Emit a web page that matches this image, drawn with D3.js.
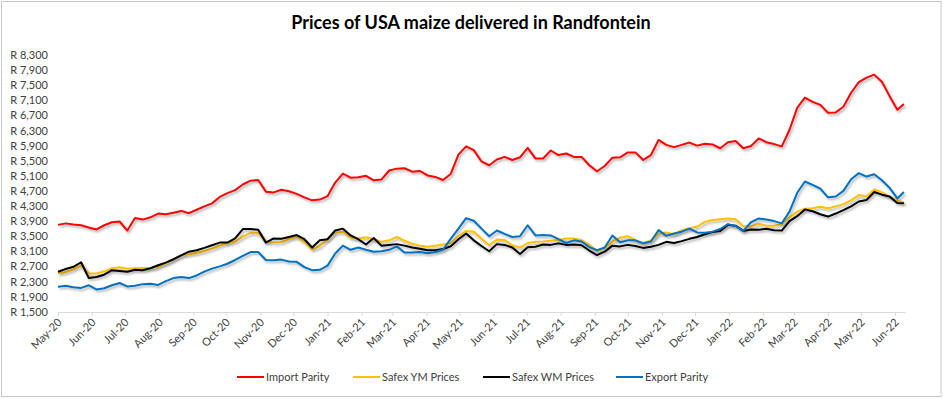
<!DOCTYPE html>
<html>
<head>
<meta charset="utf-8">
<script src="https://cdn.jsdelivr.net/npm/d3@7/dist/d3.min.js"></script>
<style>
  body { margin: 0; background: #ffffff; }
  svg { font-family: Lato, "Open Sans", sans-serif; }
</style>
</head>
<body>
<svg id="vis" width="943" height="399"></svg>
<script>
// weekly readings taken off the chart (R per ton)
var dates = [
  "2020-05-01","2020-05-08","2020-05-15","2020-05-22","2020-05-29",
  "2020-06-05","2020-06-12","2020-06-19","2020-06-26",
  "2020-07-03","2020-07-10","2020-07-17","2020-07-24","2020-07-31",
  "2020-08-07","2020-08-14","2020-08-21","2020-08-28",
  "2020-09-04","2020-09-11","2020-09-18","2020-09-25",
  "2020-10-02","2020-10-09","2020-10-16","2020-10-23","2020-10-30",
  "2020-11-06","2020-11-13","2020-11-20","2020-11-27",
  "2020-12-04","2020-12-11","2020-12-18","2020-12-25",
  "2021-01-01","2021-01-08","2021-01-15","2021-01-22","2021-01-29",
  "2021-02-05","2021-02-12","2021-02-19","2021-02-26",
  "2021-03-05","2021-03-12","2021-03-19","2021-03-26",
  "2021-04-02","2021-04-09","2021-04-16","2021-04-23","2021-04-30",
  "2021-05-07","2021-05-14","2021-05-21","2021-05-28",
  "2021-06-04","2021-06-11","2021-06-18","2021-06-25",
  "2021-07-02","2021-07-09","2021-07-16","2021-07-23","2021-07-30",
  "2021-08-06","2021-08-13","2021-08-20","2021-08-27",
  "2021-09-03","2021-09-10","2021-09-17","2021-09-24",
  "2021-10-01","2021-10-08","2021-10-15","2021-10-22","2021-10-29",
  "2021-11-05","2021-11-12","2021-11-19","2021-11-26",
  "2021-12-03","2021-12-10","2021-12-17","2021-12-24","2021-12-31",
  "2022-01-07","2022-01-14","2022-01-21","2022-01-28",
  "2022-02-04","2022-02-11","2022-02-18","2022-02-25",
  "2022-03-04","2022-03-11","2022-03-18","2022-03-25",
  "2022-04-01","2022-04-08","2022-04-15","2022-04-22","2022-04-29",
  "2022-05-06","2022-05-13","2022-05-20","2022-05-27",
  "2022-06-03","2022-06-09"
];

var importParity = [
  3800,3840,3810,3790,3730,3680,3790,3870,3890,3650,
  3980,3940,4000,4100,4080,4120,4170,4110,4200,4290,
  4370,4540,4640,4720,4870,4970,4990,4680,4660,4730,
  4690,4620,4530,4450,4470,4560,4920,5160,5050,5060,
  5100,4980,5000,5240,5290,5300,5210,5230,5110,5070,
  4990,5150,5660,5880,5780,5480,5380,5530,5600,5520,
  5590,5840,5560,5560,5770,5650,5690,5600,5600,5380,
  5220,5360,5580,5590,5720,5720,5520,5650,6050,5920,
  5860,5920,5980,5900,5950,5930,5830,5990,6020,5830,
  5890,6090,5990,5940,5880,6320,6900,7170,7060,6980,
  6770,6780,6930,7300,7580,7700,7780,7590,7210,6850,
  7000
];

var safexYM = [
  2520,2550,2620,2730,2520,2510,2570,2650,2680,2640,
  2650,2660,2650,2690,2790,2890,3000,3020,3060,3110,
  3170,3250,3320,3360,3490,3590,3580,3370,3330,3340,
  3430,3490,3350,3150,3240,3420,3600,3620,3460,3440,
  3470,3420,3350,3390,3480,3380,3300,3250,3220,3250,
  3280,3320,3500,3640,3620,3430,3260,3410,3400,3260,
  3200,3320,3350,3360,3380,3400,3440,3440,3400,3270,
  3110,3180,3360,3460,3500,3390,3320,3390,3570,3600,
  3550,3660,3710,3750,3880,3930,3950,3970,3950,3760,
  3760,3830,3780,3780,3820,4000,4150,4230,4240,4280,
  4240,4290,4350,4450,4590,4560,4740,4660,4550,4450,
  4390
];

var safexWM = [
  2560,2630,2690,2810,2390,2420,2480,2600,2580,2560,
  2610,2600,2650,2730,2800,2890,2990,3090,3130,3190,
  3260,3330,3330,3440,3690,3690,3670,3330,3440,3430,
  3480,3530,3420,3200,3390,3420,3650,3700,3520,3420,
  3280,3450,3250,3270,3290,3250,3200,3170,3130,3130,
  3160,3230,3420,3570,3390,3240,3100,3290,3270,3200,
  3030,3210,3220,3280,3270,3310,3270,3280,3260,3120,
  3000,3090,3250,3230,3270,3240,3190,3220,3270,3350,
  3320,3370,3430,3480,3550,3610,3640,3800,3780,3640,
  3680,3670,3700,3660,3650,3900,4030,4210,4160,4080,
  4020,4100,4190,4290,4420,4460,4670,4600,4550,4380,
  4370
];

var exportParity = [
  2160,2190,2150,2130,2200,2090,2120,2200,2260,2170,
  2190,2230,2240,2210,2310,2390,2420,2390,2460,2560,
  2640,2700,2770,2870,2980,3080,3080,2870,2860,2880,
  2830,2820,2680,2600,2610,2720,3040,3250,3140,3200,
  3140,3090,3100,3140,3230,3070,3070,3080,3050,3080,
  3140,3430,3700,3980,3910,3700,3500,3650,3560,3480,
  3500,3790,3520,3530,3520,3420,3320,3390,3360,3210,
  3130,3200,3520,3340,3390,3390,3310,3360,3660,3510,
  3570,3620,3700,3600,3590,3620,3690,3820,3770,3640,
  3870,3970,3940,3900,3840,4150,4650,4950,4860,4760,
  4530,4550,4700,5010,5170,5080,5140,4980,4780,4500,
  4670
];

var seriesNames = ["Import Parity", "Safex YM Prices", "Safex WM Prices", "Export Parity"];
var seriesColors = ["#ff0000", "#ffc000", "#000000", "#0070c0"];
var yTicks = [1500,1900,2300,2700,3100,3500,3900,4300,4700,5100,5500,5900,6300,6700,7100,7500,7900,8300];

var svg = d3.select("#vis");
var parseDate = d3.timeParse("%Y-%m-%d");
var allSeries = [importParity, safexYM, safexWM, exportParity];

// outer frame
svg.append("rect")
  .attr("x", 1.5).attr("y", 1.5)
  .attr("width", 939.5).attr("height", 395)
  .attr("fill", "#ffffff")
  .attr("stroke", "#c8c8c8")
  .attr("stroke-width", 1);

// soft shadow under the lines, like the excel effect
var defs = svg.append("defs");
var filter = defs.append("filter").attr("id", "shadow")
  .attr("x", "-5%").attr("y", "-10%").attr("width", "110%").attr("height", "130%");
filter.append("feDropShadow")
  .attr("dx", 1.5).attr("dy", 2)
  .attr("stdDeviation", 1.3)
  .attr("flood-color", "#000")
  .attr("flood-opacity", 0.3);

var xScale = d3.scaleTime()
  .domain([parseDate("2020-05-01"), parseDate("2022-06-10")])
  .range([58, 905]);

var yScale = d3.scaleLinear()
  .domain([1500, 8300])
  .range([311.7, 55]);

// title
svg.append("text")
  .attr("x", 471)
  .attr("y", 29)
  .style("text-anchor", "middle")
  .style("font-size", "18px")
  .style("font-weight", "bold")
  .style("fill", "#000")
  .text("Prices of USA maize delivered in Randfontein");

// y axis (labels only)
var yAxis = d3.axisLeft(yScale)
  .tickValues(yTicks)
  .tickSize(0)
  .tickFormat(function(d){ return "R " + d3.format(",")(d); });
var yGroup = svg.append("g").attr("transform", "translate(48,0)").call(yAxis);
yGroup.select(".domain").remove();
yGroup.selectAll("text")
  .attr("x", 0)
  .style("font-size", "11px")
  .style("font-family", "Lato, 'Open Sans', sans-serif")
  .style("fill", "#404040");

// x axis with month ticks
var months = d3.timeMonth.range(parseDate("2020-05-01"), parseDate("2022-06-02"));
var xAxis = d3.axisBottom(xScale)
  .tickValues(months)
  .tickSize(4)
  .tickSizeOuter(0)
  .tickFormat(d3.timeFormat("%b-%y"));
var xGroup = svg.append("g").attr("transform", "translate(0,312)").call(xAxis);
xGroup.select(".domain").attr("stroke", "#d9d9d9");
xGroup.selectAll(".tick line").attr("stroke", "#d9d9d9");
xGroup.selectAll("text")
  .attr("y", 0)
  .attr("dy", 0)
  .attr("transform", "translate(4,11) rotate(-45)")
  .style("text-anchor", "end")
  .style("font-size", "11px")
  .style("font-family", "Lato, 'Open Sans', sans-serif")
  .style("fill", "#404040");

// lines
var line = d3.line()
  .x(function(d){ return xScale(d.date); })
  .y(function(d){ return yScale(d.value); });

for (var s = 0; s < allSeries.length; s++) {
  var points = [];
  for (var i = 0; i < dates.length; i++) {
    points.push({date: parseDate(dates[i]), value: allSeries[s][i]});
  }
  svg.append("path")
    .attr("d", line(points))
    .attr("fill", "none")
    .attr("stroke", seriesColors[s])
    .attr("stroke-width", 2)
    .attr("stroke-linejoin", "round")
    .attr("filter", "url(#shadow)");
}

// legend
var legendX = [237, 353, 483, 616];
var legend = svg.append("g").attr("transform", "translate(0,377)");
for (var j = 0; j < seriesNames.length; j++) {
  legend.append("line")
    .attr("x1", legendX[j]).attr("x2", legendX[j] + 27)
    .attr("y1", 0).attr("y2", 0)
    .attr("stroke", seriesColors[j])
    .attr("stroke-width", 2);
  legend.append("text")
    .attr("x", legendX[j] + 29)
    .attr("y", 4)
    .style("font-size", "11px")
    .style("fill", "#404040")
    .text(seriesNames[j]);
}
</script>
</body>
</html>
